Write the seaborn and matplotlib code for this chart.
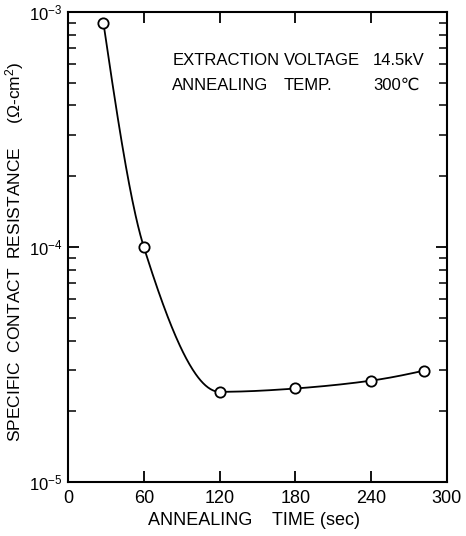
import numpy as np
import pandas as pd
import matplotlib
matplotlib.use("Agg")
import matplotlib.pyplot as plt
import matplotlib.ticker as mticker
import seaborn as sns

# Datos
tiempo = [28, 60, 120, 180, 240, 282]
resistencia = [9.0e-4, 1.0e-4, 2.42e-5, 2.50e-5, 2.70e-5, 2.98e-5]

xticks = [0, 60, 120, 180, 240, 300]
yticks = [1e-5, 1e-4, 1e-3]


# Curva suave en escala log que pasa por los puntos (tangente nula en el minimo)
def curva_suave(x, y, xs):
    x = np.asarray(x, float)
    y = np.asarray(y, float)
    h = np.diff(x)
    delta = np.diff(y) / h
    n = len(x)
    d = np.zeros(n)
    for k in range(1, n - 1):
        if delta[k - 1] * delta[k] > 0:
            d[k] = (y[k + 1] - y[k - 1]) / (x[k + 1] - x[k - 1])
    d[0] = ((2 * h[0] + h[1]) * delta[0] - h[0] * delta[1]) / (h[0] + h[1])
    d[-1] = ((2 * h[-1] + h[-2]) * delta[-1] - h[-1] * delta[-2]) / (h[-1] + h[-2])
    idx = np.clip(np.searchsorted(x, xs) - 1, 0, n - 2)
    t = (xs - x[idx]) / h[idx]
    h00 = 2 * t**3 - 3 * t**2 + 1
    h10 = t**3 - 2 * t**2 + t
    h01 = -2 * t**3 + 3 * t**2
    h11 = t**3 - t**2
    return (h00 * y[idx] + h10 * h[idx] * d[idx]
            + h01 * y[idx + 1] + h11 * h[idx] * d[idx + 1])


xs = np.linspace(tiempo[0], tiempo[-1], 400)
ys = 10 ** curva_suave(tiempo, np.log10(resistencia), xs)
curva = pd.DataFrame({"t": xs, "r": ys})
puntos = pd.DataFrame({"t": tiempo, "r": resistencia})

sns.set_style("ticks")
plt.rcParams["font.family"] = ["Liberation Sans", "DejaVu Sans"]
plt.rcParams["mathtext.fontset"] = "custom"
plt.rcParams["mathtext.rm"] = "Liberation Sans"
plt.rcParams["text.color"] = "black"
plt.rcParams["axes.labelcolor"] = "black"
plt.rcParams["xtick.color"] = "black"
plt.rcParams["ytick.color"] = "black"

fig = plt.figure(figsize=(4.66, 5.36), dpi=100)
ax = fig.add_axes([0.146, 0.1007, 0.813, 0.877])

sns.lineplot(data=curva, x="t", y="r", ax=ax, color="black", linewidth=1.3)
sns.scatterplot(data=puntos, x="t", y="r", ax=ax, s=55, marker="o",
                facecolor="white", edgecolor="black", linewidth=1.3, zorder=3)

ax.set_yscale("log")
ax.set_xlim(0, 300)
ax.set_ylim(1e-5, 1e-3)
ax.set_xticks(xticks)
ax.set_xticklabels([str(v) for v in xticks], fontsize=13)
ax.set_yticks(yticks)
ax.set_yticklabels([r"$\mathregular{10^{-5}}$", r"$\mathregular{10^{-4}}$",
                    r"$\mathregular{10^{-3}}$"], fontsize=12)
ax.yaxis.set_minor_locator(mticker.LogLocator(base=10, subs=np.arange(2, 10)))
ax.yaxis.set_minor_formatter(mticker.NullFormatter())

ax.tick_params(axis="both", which="major", direction="in", length=8, width=1.3,
               top=True, right=True, pad=6)
ax.tick_params(axis="y", which="major", pad=4)
ax.tick_params(axis="y", which="minor", direction="in", length=6, width=1.1,
               left=True, right=True)
ax.tick_params(axis="x", which="minor", bottom=False, top=False)
for s in ax.spines.values():
    s.set_linewidth(1.5)
    s.set_color("black")

ax.set_xlabel("ANNEALING    TIME (sec)", fontsize=13)
ax.xaxis.set_label_coords(0.49, -0.064)
ax.set_ylabel("SPECIFIC  CONTACT  RESISTANCE     (Ω-cm$\\mathregular{^2}$)",
              fontsize=12.5)
ax.yaxis.set_label_coords(-0.11, 0.49)

# Condiciones del experimento
ax.text(0.275, 0.897, "EXTRACTION", transform=ax.transAxes, fontsize=12, va="center")
ax.text(0.57, 0.897, "VOLTAGE", transform=ax.transAxes, fontsize=12, va="center")
ax.text(0.805, 0.897, "14.5kV", transform=ax.transAxes, fontsize=12, va="center")
ax.text(0.275, 0.844, "ANNEALING", transform=ax.transAxes, fontsize=12, va="center")
ax.text(0.57, 0.844, "TEMP.", transform=ax.transAxes, fontsize=12, va="center")
ax.text(0.805, 0.844, "300℃", transform=ax.transAxes, fontsize=12, va="center")

fig.savefig("out.png", dpi=100)
